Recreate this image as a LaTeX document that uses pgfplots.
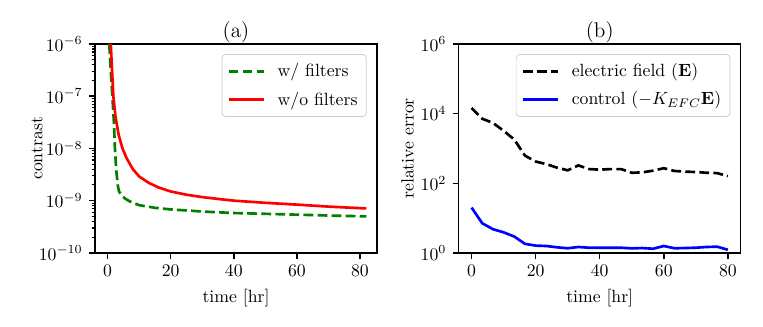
\documentclass[border=0pt]{standalone}
\usepackage{pgfplots}
\pgfplotsset{compat=1.18}

% colours as matplotlib's single-letter ones
\definecolor{mplgreen}{rgb}{0,0.5,0}
\definecolor{mplred}{rgb}{1,0,0}
\definecolor{mplblue}{rgb}{0,0,1}

\pgfplotsset{
  mypanel/.style={
    scale only axis,
    width=159.3pt, height=118.1pt,
    axis line style={line width=0.8pt},
    tick align=outside,
    tick pos=left,
    major tick length=3.5pt,
    minor tick length=2pt,
    every tick/.style={black, line width=0.8pt},
    every minor tick/.style={black, line width=0.6pt},
    xtick={0,20,40,60,80},
    xlabel={time [hr]},
    title style={font=\large, yshift=-9pt},
    legend cell align=left,
    legend image code/.code={\draw[##1] (0pt,0pt) -- (20pt,0pt);},
    legend style={
      at={(0.9635,0.9507)}, anchor=north east,
      draw=black!20, rounded corners=2pt, fill=white,
      inner xsep=3pt, inner ysep=3pt,
      row sep=3pt, column sep=5pt,
    },
  },
}
\tikzset{
  dataline/.style={line width=1.5pt, line join=round},
  mpldash/.style={dash pattern=on 5.55pt off 2.4pt},
}

\begin{document}
\begin{tikzpicture}
\path[use as bounding box] (-53.7pt,-41.8pt) rectangle (377.4pt,142.9pt);

% (a) contrast
\begin{axis}[
  ymode=log,
  mypanel,
  at={(0pt,0pt)}, anchor=south west,
  title={(a)},
  ylabel={contrast},
  ylabel shift=-9pt,
  xmin=-4.0, xmax=85.4,
  ymin=1e-10, ymax=1e-6,
  ytick={1e-10,1e-9,1e-8,1e-7,1e-6},
]
\addplot[dataline, mpldash, color=mplgreen] coordinates {
 (0.5,1e-6) (1.0,3e-7) (1.5,1e-7) (2.0,3e-8) (2.3,1e-8) (2.7,4e-9)
 (3.2,2e-9) (3.6,1.5e-9) (4.5,1.25e-9) (5.5,1.1e-9) (7,9.7e-10)
 (10,8.2e-10) (15,7.3e-10) (20,6.8e-10) (30,6.2e-10) (40,5.8e-10)
 (50,5.6e-10) (60,5.4e-10) (70,5.2e-10) (82,5.0e-10)
};
\addlegendentry{w/ filters}
\addplot[dataline, color=mplred] coordinates {
 (1,1e-6) (1.3,4e-7) (1.8,1e-7) (2.5,4e-8) (3.5,1.8e-8) (4.7,1e-8)
 (6,6.5e-9) (8,4e-9) (10,2.9e-9) (13,2.2e-9) (16,1.8e-9) (20,1.5e-9)
 (25,1.3e-9) (30,1.17e-9) (35,1.08e-9) (40,1.0e-9) (50,9.1e-10)
 (60,8.4e-10) (70,7.7e-10) (82,7.1e-10)
};
\addlegendentry{w/o filters}
\end{axis}

% (b) relative error
\begin{axis}[
  ymode=log,
  mypanel,
  at={(205.5pt,0pt)}, anchor=south west,
  title={(b)},
  ylabel={relative error},
  ylabel shift=-3pt,
  xmin=-4, xmax=84,
  ymin=1, ymax=1e6,
  ytick={1,1e2,1e4,1e6},
  yminorticks=false,
]
\addplot[dataline, mpldash, color=black] coordinates {
 (0,14500) (3.33,7100) (6.67,5400) (10,3200) (13.33,1800) (16.67,620)
 (20,420) (23.33,355) (26.67,280) (30,235) (33.33,325) (36.67,255)
 (40,245) (43.33,255) (46.67,255) (50,200) (53.33,205) (56.67,230)
 (60,270) (63.33,225) (66.67,215) (70,210) (73.33,200) (76.67,195)
 (80,160)
};
\addlegendentry{electric field ($\mathbf{E}$)}
\addplot[dataline, color=mplblue] coordinates {
 (0,20) (3.33,7.1) (6.67,4.8) (10,3.9) (13.33,2.95) (16.67,1.82)
 (20,1.62) (23.33,1.58) (26.67,1.45) (30,1.36) (33.33,1.48) (36.67,1.41)
 (40,1.41) (43.33,1.41) (46.67,1.41) (50,1.35) (53.33,1.38) (56.67,1.32)
 (60,1.58) (63.33,1.36) (66.67,1.38) (70,1.41) (73.33,1.48) (76.67,1.51)
 (80,1.23)
};
\addlegendentry{control ($-K_{EFC}\mathbf{E}$)}
\end{axis}
\end{tikzpicture}
\end{document}
